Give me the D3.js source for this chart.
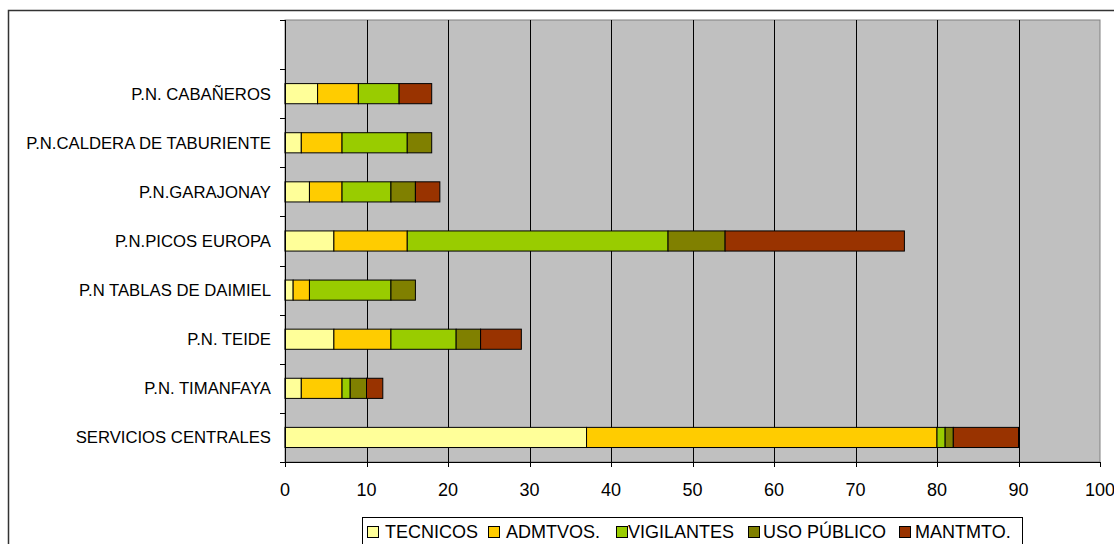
<!DOCTYPE html>
<html><head><meta charset="utf-8">
<script src="https://cdn.jsdelivr.net/npm/d3@7"></script>
<style>body{margin:0;background:#fff;}svg{display:block;font-family:"Liberation Sans",Arial,sans-serif;}</style>
</head><body>
<svg id="c" width="1114" height="544"></svg>
<script>
const categories = ["P.N. CABAÑEROS","P.N.CALDERA DE TABURIENTE","P.N.GARAJONAY","P.N.PICOS EUROPA","P.N TABLAS DE DAIMIEL","P.N. TEIDE","P.N. TIMANFAYA","SERVICIOS CENTRALES"];
const seriesNames = ["TECNICOS","ADMTVOS.","VIGILANTES","USO PÚBLICO","MANTMTO."];
const tecnicos   = [4, 2, 3, 6, 1, 6, 2, 37];
const admtvos    = [5, 5, 4, 9, 2, 7, 5, 43];
const vigilantes = [5, 8, 6, 32, 10, 8, 1, 1];
const usoPublico = [0, 3, 3, 7, 3, 3, 2, 1];
const mantmto    = [4, 0, 3, 22, 0, 5, 2, 8];
const xTicks = [0,10,20,30,40,50,60,70,80,90,100];
const colors = ["#FFFF99","#FFCC00","#99CC00","#808000","#993300"];

const svg = d3.select("#c");
const L = 285, R = 1100, T = 20, B = 462;

// outer border
svg.append("rect").attr("x",8.5).attr("y",10.5).attr("width",1200).attr("height",600)
  .attr("fill","#fff").attr("stroke","#333").attr("stroke-width",1.5);

const x = d3.scaleLinear().domain([0,100]).range([L,R]);
const y = d3.scaleBand().domain(["", ...categories]).range([T,B]).padding(0);

// plot area
svg.append("rect").attr("x",L).attr("y",T).attr("width",R-L).attr("height",B-T)
  .attr("fill","#C0C0C0").attr("stroke","#808080").attr("stroke-width",1);

// gridlines
svg.append("g").selectAll("line").data(xTicks.filter(d=>d>0 && d<100)).join("line")
  .attr("x1",d=>Math.round(x(d))+0.5).attr("x2",d=>Math.round(x(d))+0.5)
  .attr("y1",T).attr("y2",B).attr("stroke","#000").attr("stroke-width",1);

// stacked data
const rows = categories.map((c,i)=>({cat:c, v:[tecnicos[i],admtvos[i],vigilantes[i],usoPublico[i],mantmto[i]]}));
const stack = d3.stack().keys([0,1,2,3,4]).value((d,k)=>d.v[k]);
const layers = stack(rows);
const bh = y.bandwidth()*0.41;

svg.append("g").selectAll("g").data(layers).join("g")
  .attr("fill",(d,i)=>colors[i])
  .selectAll("rect").data(d=>d.filter(p=>p[1]-p[0]>0)).join("rect")
  .attr("x",d=>x(d[0])).attr("width",d=>x(d[1])-x(d[0]))
  .attr("y",d=>y(d.data.cat)+y.bandwidth()/2-bh/2).attr("height",bh)
  .attr("stroke","#000").attr("stroke-width",1);

// left axis
const ya = svg.append("g");
ya.append("line").attr("x1",L+0.5).attr("x2",L+0.5).attr("y1",T).attr("y2",B+1).attr("stroke","#000");
const bounds = d3.range(0, y.domain().length+1).map(i=>T + i*y.step());
ya.selectAll("line.t").data(bounds).join("line").attr("class","t")
  .attr("x1",L-5).attr("x2",L).attr("y1",d=>Math.round(d)+0.5).attr("y2",d=>Math.round(d)+0.5).attr("stroke","#000");
ya.selectAll("text").data(categories).join("text")
  .attr("x",271).attr("y",d=>y(d)+y.bandwidth()/2).attr("dy","0.35em")
  .attr("text-anchor","end").attr("font-size",16.7).attr("fill","#000").text(d=>d);

// bottom axis
const xa = svg.append("g");
xa.append("line").attr("x1",L-5).attr("x2",R).attr("y1",B+0.5).attr("y2",B+0.5).attr("stroke","#000");
xa.selectAll("line.t").data(xTicks).join("line").attr("class","t")
  .attr("x1",d=>Math.round(x(d))+0.5).attr("x2",d=>Math.round(x(d))+0.5).attr("y1",B).attr("y2",B+5).attr("stroke","#000");
xa.selectAll("text").data(xTicks).join("text")
  .attr("x",d=>x(d)).attr("y",496).attr("text-anchor","middle").attr("font-size",18).attr("fill","#000").text(d=>d);

// legend
const lg = svg.append("g");
lg.append("rect").attr("x",362.5).attr("y",517.5).attr("width",660).attr("height",40)
  .attr("fill","#fff").attr("stroke","#000").attr("stroke-width",1);
const swX = [367, 488, 616, 748, 899];
const txX = [385, 506, 628, 763, 915];
seriesNames.forEach((n,i)=>{
  lg.append("rect").attr("x",swX[i]+0.5).attr("y",526.5).attr("width",11).attr("height",11)
    .attr("fill",colors[i]).attr("stroke","#000");
  lg.append("text").attr("x",txX[i]).attr("y",537.5).attr("font-size",18).attr("fill","#000").text(n);
});
</script>
</body></html>
